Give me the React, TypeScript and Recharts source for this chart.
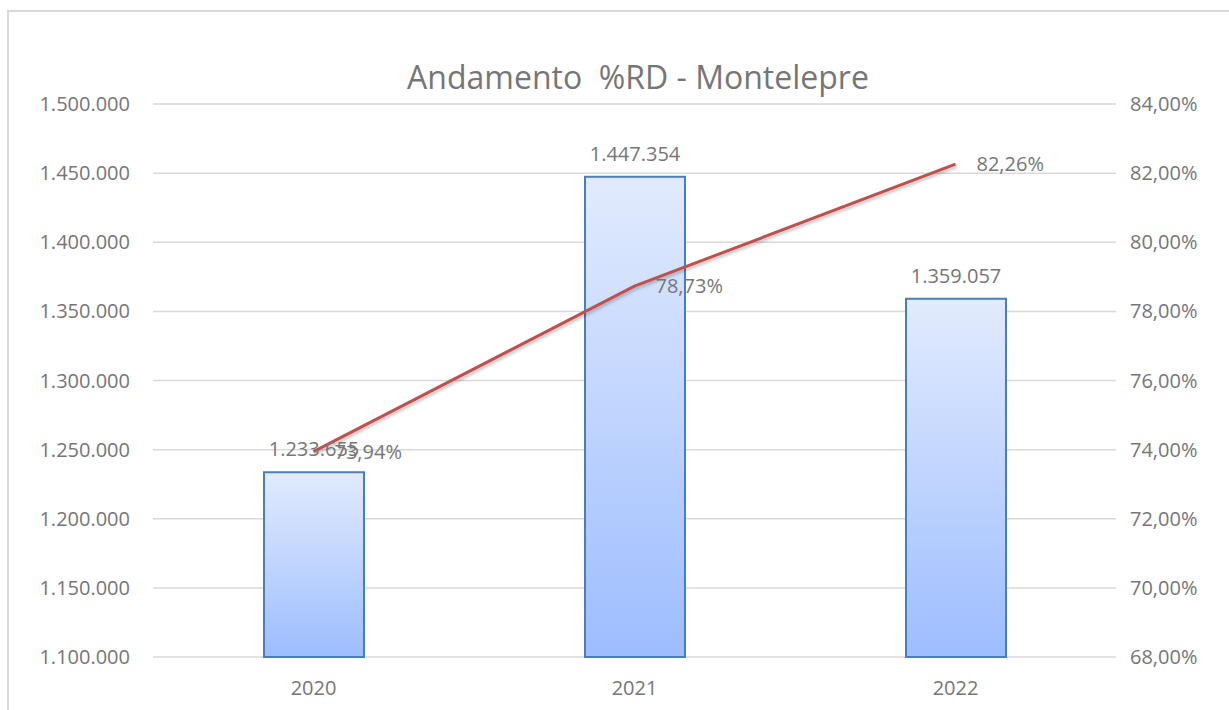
import { ComposedChart, Bar, Line, XAxis, YAxis, CartesianGrid, LabelList } from "recharts";

const years = ["2020", "2021", "2022"];
const importi = [1233655, 1447354, 1359057];
const percRD = [0.7394, 0.7873, 0.8226];

const leftTicks = [1100000, 1150000, 1200000, 1250000, 1300000, 1350000, 1400000, 1450000, 1500000];
const rightTicks = [0.68, 0.7, 0.72, 0.74, 0.76, 0.78, 0.8, 0.82, 0.84];

const data = years.map((y, i) => ({ anno: y, importo: importi[i], rd: percRD[i] }));

const FONT = "'Open Sans', 'Liberation Sans', sans-serif";
const GREY = "#767676";

const fmtNum = (v: number) => String(Math.round(v)).replace(/\B(?=(\d{3})+(?!\d))/g, ".");
const fmtPct = (v: number) => (v * 100).toFixed(2).replace(".", ",") + "%";

export default function App() {
  return (
    <div style={{ position: "absolute", left: 0, top: 0, width: 1229, height: 710, overflow: "hidden", background: "white", fontFamily: FONT }}>
      <div style={{ position: "absolute", left: 7, top: 10, width: 1240, height: 720, border: "2px solid #d9d9d9", boxSizing: "border-box" }} />
      <div style={{ position: "absolute", left: 0, width: 1276, top: 56, textAlign: "center", fontSize: 32, color: GREY, whiteSpace: "pre", lineHeight: "42px" }}>
        Andamento  %RD - Montelepre
      </div>
      <div style={{ position: "absolute", left: 9, top: 12 }}>
        <ComposedChart width={1216} height={700} data={data} margin={{ top: 92, right: 0, bottom: 0, left: 0 }}>
          <defs>
            <linearGradient id="barGrad" x1="0" y1="0" x2="0" y2="1">
              <stop offset="0%" stopColor="#e2ebfd" />
              <stop offset="100%" stopColor="#9dbdff" />
            </linearGradient>
            <filter id="lineShadow" x="-10%" y="-10%" width="120%" height="130%">
              <feDropShadow dx="1.5" dy="2" stdDeviation="1.5" floodColor="#000" floodOpacity="0.25" />
            </filter>
          </defs>
          <CartesianGrid yAxisId="left" vertical={false} stroke="#d9d9d9" strokeWidth={1.5} />
          <XAxis
            dataKey="anno"
            height={55}
            axisLine={false}
            tickLine={false}
            tickMargin={18}
            tick={{ fontSize: 20, fill: GREY, fontFamily: FONT }}
          />
          <YAxis
            yAxisId="left"
            orientation="left"
            width={144}
            domain={[1100000, 1500000]}
            ticks={leftTicks}
            interval={0}
            axisLine={false}
            tickLine={false}
            tickMargin={17}
            tickFormatter={fmtNum}
            tick={{ fontSize: 20, fill: GREY, fontFamily: FONT }}
          />
          <YAxis
            yAxisId="right"
            orientation="right"
            width={109}
            domain={[0.68, 0.84]}
            ticks={rightTicks}
            interval={0}
            axisLine={false}
            tickLine={false}
            tickMargin={8}
            tickFormatter={fmtPct}
            tick={{ fontSize: 20, fill: GREY, fontFamily: FONT }}
          />
          <Bar yAxisId="left" dataKey="importo" barSize={100} fill="url(#barGrad)" stroke="#4a7ebb" strokeWidth={2} isAnimationActive={false}>
            <LabelList dataKey="importo" position="top" offset={16} formatter={(v: unknown) => fmtNum(Number(v))} style={{ fontSize: 20, fill: GREY, fontFamily: FONT }} />
          </Bar>
          <Line
            yAxisId="right"
            dataKey="rd"
            type="linear"
            stroke="#c0504d"
            strokeWidth={3}
            dot={false}
            activeDot={false}
            filter="url(#lineShadow)"
            isAnimationActive={false}
          >
            <LabelList dataKey="rd" position="right" offset={21} formatter={(v: unknown) => fmtPct(Number(v))} style={{ fontSize: 20, fill: GREY, fontFamily: FONT }} />
          </Line>
        </ComposedChart>
      </div>
    </div>
  );
}
